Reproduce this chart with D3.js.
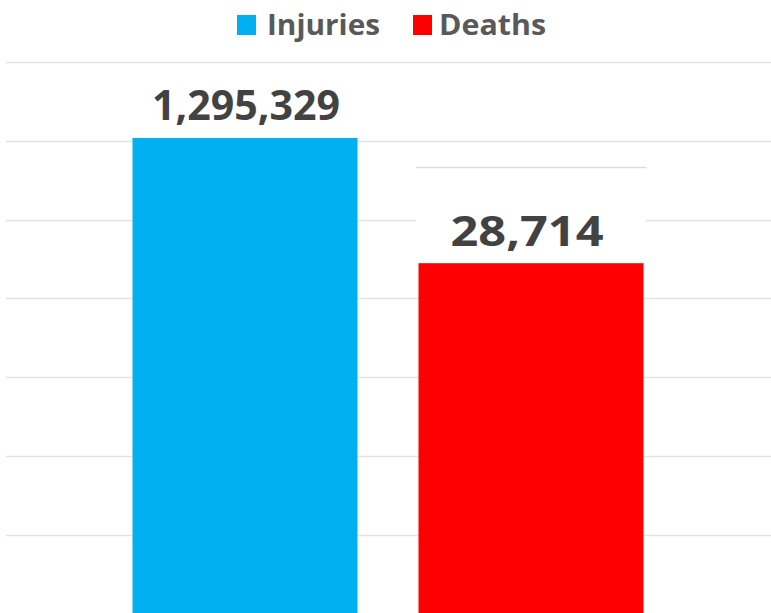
<!DOCTYPE html>
<html><head><meta charset="utf-8">
<script src="https://cdn.jsdelivr.net/npm/d3@7"></script>
<style>html,body{margin:0;padding:0;background:#fff;overflow:hidden}</style>
</head><body>
<svg id="c" width="771" height="613"></svg>
<script>
const categories = ["Injuries", "Deaths"];
const values = [1295329, 28714];
const labels = ["1,295,329", "28,714"];
const colors = ["#00B0F0", "#FF0000"];
const axisMax = [1400000, 35800];
const gridLevels = [0, 1, 2, 3, 4, 5, 6, 7];

const svg = d3.select("#c");
const W = 771, H = 613;
const plotTop = 62, zeroY = 1078;

const yScales = categories.map((c, i) => d3.scaleLinear().domain([0, axisMax[i]]).range([zeroY, plotTop]));
const yGrid = d3.scaleLinear().domain([0, 7]).range([613.6, plotTop]);

// gridlines
svg.append("g").selectAll("line").data(gridLevels).join("line")
  .attr("x1", 6).attr("x2", W)
  .attr("y1", d => Math.round(yGrid(d)) + 0.5).attr("y2", d => Math.round(yGrid(d)) + 0.5)
  .attr("stroke", "#e3e3e3").attr("stroke-width", 1.3);

// bars
const bw = 225;
const centers = [245, 531];
svg.append("g").selectAll("rect").data(categories).join("rect")
  .attr("x", (d, i) => centers[i] - bw / 2)
  .attr("y", (d, i) => yScales[i](values[i]))
  .attr("width", bw)
  .attr("height", (d, i) => zeroY - yScales[i](values[i]))
  .attr("fill", (d, i) => colors[i]);

// label box for Deaths (covers gridline, with faint top rule)
const bx = centers[1] - 115, by = 166;
svg.append("rect").attr("x", bx).attr("y", by).attr("width", 230)
  .attr("height", yScales[1](values[1]) - by).attr("fill", "#fff");
svg.append("line").attr("x1", bx).attr("x2", bx + 230).attr("y1", 167.5).attr("y2", 167.5)
  .attr("stroke", "#dcdcdc").attr("stroke-width", 1.5);

// value labels
const lblX = [246, 527];
const lblY = [120, 246];
const lblW = [188, 153];
svg.append("g").selectAll("text").data(labels).join("text")
  .attr("x", (d, i) => lblX[i]).attr("y", (d, i) => lblY[i])
  .attr("text-anchor", "middle")
  .attr("textLength", (d, i) => lblW[i]).attr("lengthAdjust", "spacingAndGlyphs")
  .attr("font-family", "'Open Sans', sans-serif").attr("font-weight", 700)
  .attr("font-size", 41).attr("fill", "#424242")
  .text(d => d);

// legend
const legX = [237, 413];
const legTextX = [267, 439];
const legW = [113, 107];
const leg = svg.append("g");
categories.forEach((c, i) => {
  leg.append("rect").attr("x", legX[i]).attr("y", 15).attr("width", 19).attr("height", 20).attr("fill", colors[i]);
  leg.append("text").attr("x", legTextX[i]).attr("y", 35)
    .attr("textLength", legW[i]).attr("lengthAdjust", "spacingAndGlyphs")
    .attr("font-family", "'Open Sans', sans-serif").attr("font-weight", 700)
    .attr("font-size", 28).attr("fill", "#595959").text(c);
});
</script>
</body></html>
